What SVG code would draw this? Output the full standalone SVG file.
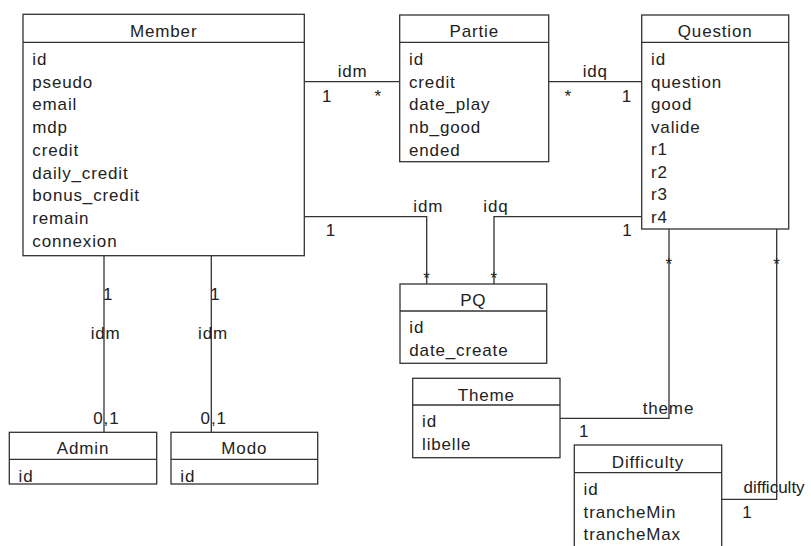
<svg xmlns="http://www.w3.org/2000/svg" width="811" height="546" viewBox="0 0 811 546">
  <style>
    .box { fill: #ffffff; stroke: #333333; stroke-width: 1.3; }
    .sep { stroke: #333333; stroke-width: 1.3; fill: none; }
    .wire { stroke: #333333; stroke-width: 1.3; fill: none; }
    text { font-family: "Liberation Sans", Arial, sans-serif; font-size: 17px; letter-spacing: 0.85px; fill: #222222; }
    .title { text-anchor: middle; }
    .mid { text-anchor: middle; }
    .tight { letter-spacing: 0; }
  </style>
  <rect x="0" y="0" width="811" height="546" fill="#ffffff"/>

  <!-- Connectors -->
  <g id="connectors">
    <!-- Member - Partie -->
    <line class="wire" x1="304.3" y1="81.7" x2="399.7" y2="81.7"/>
    <text x="337.7" y="77.3">idm</text>
    <text x="322" y="101.7">1</text>
    <text x="374.5" y="101.7">*</text>
    <!-- Partie - Question -->
    <line class="wire" x1="548.7" y1="81.7" x2="641.7" y2="81.7"/>
    <text x="582.7" y="77.3">idq</text>
    <text x="564.5" y="101.7">*</text>
    <text x="621.7" y="101.7">1</text>
    <!-- Member - PQ -->
    <polyline class="wire" points="304.3,216.7 426.7,216.7 426.7,284"/>
    <text x="413.3" y="211.7">idm</text>
    <text x="325.7" y="235.7">1</text>
    <text class="mid" x="427" y="284">*</text>
    <!-- Question - PQ -->
    <polyline class="wire" points="641.7,216.7 494,216.7 494,284"/>
    <text x="483.3" y="211.7">idq</text>
    <text x="622.3" y="235.7">1</text>
    <text class="mid" x="494.3" y="284">*</text>
    <!-- Question - Theme -->
    <polyline class="wire" points="669,229 669,418.3 560,418.3"/>
    <text class="mid" x="669.3" y="270">*</text>
    <text x="642.7" y="414">theme</text>
    <text x="579" y="436.7">1</text>
    <!-- Question - Difficulty -->
    <polyline class="wire" points="776.7,229 776.7,499.3 721.7,499.3"/>
    <text class="mid" x="777" y="270">*</text>
    <text class="tight" x="743.5" y="493.3">difficulty</text>
    <text x="742.3" y="518">1</text>
    <!-- Member - Admin -->
    <line class="wire" x1="104" y1="255.7" x2="104" y2="432.3"/>
    <text x="103" y="299.5">1</text>
    <text x="90.7" y="339">idm</text>
    <text x="93.3" y="424">0,1</text>
    <!-- Member - Modo -->
    <line class="wire" x1="211.3" y1="255.7" x2="211.3" y2="432.3"/>
    <text x="210.3" y="299.5">1</text>
    <text x="198" y="339">idm</text>
    <text x="200.6" y="424">0,1</text>
  </g>

  <!-- Member -->
  <g id="member">
    <rect class="box" x="23" y="14.3" width="281.3" height="241.4"/>
    <line class="sep" x1="23" y1="42.3" x2="304.3" y2="42.3"/>
    <text class="title" x="163.7" y="37.3">Member</text>
    <text x="32.3" y="65">id</text>
    <text x="32.3" y="87.7">pseudo</text>
    <text x="32.3" y="110.4">email</text>
    <text x="32.3" y="133.1">mdp</text>
    <text x="32.3" y="155.8">credit</text>
    <text x="32.3" y="178.5">daily_credit</text>
    <text x="32.3" y="201.2">bonus_credit</text>
    <text x="32.3" y="223.9">remain</text>
    <text x="32.3" y="246.6">connexion</text>
  </g>

  <!-- Partie -->
  <g id="partie">
    <rect class="box" x="399.7" y="15" width="149" height="146.7"/>
    <line class="sep" x1="399.7" y1="42.3" x2="548.7" y2="42.3"/>
    <text class="title" x="474.2" y="37.3">Partie</text>
    <text x="409" y="65">id</text>
    <text x="409" y="87.7">credit</text>
    <text x="409" y="110.4">date_play</text>
    <text x="409" y="133.1">nb_good</text>
    <text x="409" y="155.8">ended</text>
  </g>

  <!-- Question -->
  <g id="question">
    <rect class="box" x="641.7" y="15" width="147" height="214"/>
    <line class="sep" x1="641.7" y1="42.3" x2="788.7" y2="42.3"/>
    <text class="title" x="715.2" y="37.3">Question</text>
    <text x="651" y="65">id</text>
    <text x="651" y="87.5">question</text>
    <text x="651" y="110">good</text>
    <text x="651" y="132.5">valide</text>
    <text x="651" y="155">r1</text>
    <text x="651" y="177.5">r2</text>
    <text x="651" y="200">r3</text>
    <text x="651" y="222.5">r4</text>
  </g>

  <!-- PQ -->
  <g id="pq">
    <rect class="box" x="400" y="284" width="146.7" height="79.3"/>
    <line class="sep" x1="400" y1="311" x2="546.7" y2="311"/>
    <text class="title" x="473.3" y="306">PQ</text>
    <text x="409.3" y="333.3">id</text>
    <text x="409.3" y="356">date_create</text>
  </g>

  <!-- Theme -->
  <g id="theme">
    <rect class="box" x="412.7" y="378.3" width="147.3" height="79.4"/>
    <line class="sep" x1="412.7" y1="405" x2="560" y2="405"/>
    <text class="title" x="486.3" y="400.7">Theme</text>
    <text x="422" y="427">id</text>
    <text x="422" y="449.7">libelle</text>
  </g>

  <!-- Difficulty -->
  <g id="difficulty">
    <rect class="box" x="574.3" y="445" width="147.4" height="110"/>
    <line class="sep" x1="574.3" y1="472.7" x2="721.7" y2="472.7"/>
    <text class="title" x="648" y="468">Difficulty</text>
    <text x="583.6" y="495.2">id</text>
    <text x="583.6" y="517.8">trancheMin</text>
    <text x="583.6" y="540.4">trancheMax</text>
  </g>

  <!-- Admin -->
  <g id="admin">
    <rect class="box" x="9.3" y="432.3" width="147.4" height="51.7"/>
    <line class="sep" x1="9.3" y1="459.3" x2="156.7" y2="459.3"/>
    <text class="title" x="83" y="454.3">Admin</text>
    <text x="18.6" y="481.7">id</text>
  </g>

  <!-- Modo -->
  <g id="modo">
    <rect class="box" x="171" y="432.3" width="146.7" height="51.7"/>
    <line class="sep" x1="171" y1="459.3" x2="317.7" y2="459.3"/>
    <text class="title" x="244.3" y="454.3">Modo</text>
    <text x="180.3" y="481.7">id</text>
  </g>
</svg>
